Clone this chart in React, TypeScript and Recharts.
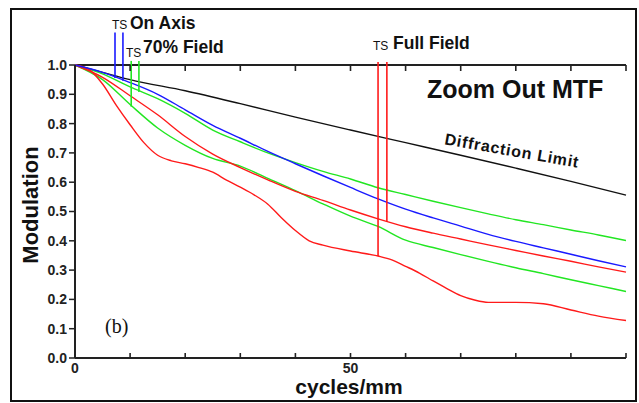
import { LineChart, Line, XAxis, YAxis, ReferenceLine } from "recharts";

// diffraction limit
const diffX = [0, 5, 10, 20, 30, 40, 50, 60, 70, 80, 90, 100];
const diffY = [1.0, 0.975, 0.95, 0.912, 0.868, 0.822, 0.778, 0.735, 0.692, 0.648, 0.603, 0.556];

// on axis (T and S overlap)
const axisX = [0, 5, 10, 15, 20, 25, 30, 35, 40, 45, 50, 55, 60, 65, 70, 75, 80, 85, 90, 95, 100];
const axisY = [1.0, 0.975, 0.94, 0.9, 0.847, 0.794, 0.75, 0.705, 0.663, 0.622, 0.582, 0.543, 0.508, 0.478, 0.45, 0.422, 0.398, 0.376, 0.354, 0.332, 0.311];

// 70% field
const f70X = [0, 5, 10, 15, 20, 25, 30, 35, 40, 45, 50, 55, 60, 65, 70, 75, 80, 85, 90, 95, 100];
const f70S = [1.0, 0.97, 0.925, 0.885, 0.835, 0.778, 0.738, 0.7, 0.667, 0.637, 0.611, 0.581, 0.558, 0.535, 0.513, 0.492, 0.472, 0.455, 0.437, 0.42, 0.401];
const f70T = [1.0, 0.95, 0.865, 0.785, 0.726, 0.681, 0.655, 0.613, 0.571, 0.526, 0.484, 0.449, 0.402, 0.377, 0.353, 0.33, 0.308, 0.288, 0.267, 0.247, 0.227];

// full field
const fullSX = [0, 5, 10, 15, 20, 25, 30, 35, 40, 45, 50, 55, 60, 65, 70, 75, 80, 85, 90, 95, 100];
const fullS = [1.0, 0.958, 0.895, 0.83, 0.756, 0.696, 0.65, 0.608, 0.569, 0.538, 0.505, 0.475, 0.448, 0.426, 0.406, 0.386, 0.367, 0.348, 0.33, 0.311, 0.293];
const fullTX = [0, 2.5, 5, 7.5, 10, 12.5, 15, 17.5, 20, 22.5, 25, 27.5, 30, 32.5, 35, 37.5, 40, 42.5, 45, 50, 55, 57.5, 60, 62.5, 65, 67.5, 70, 72.5, 75, 80, 85, 90, 95, 100];
const fullT = [1.0, 0.985, 0.935, 0.862, 0.796, 0.735, 0.692, 0.673, 0.663, 0.65, 0.634, 0.607, 0.583, 0.557, 0.525, 0.478, 0.435, 0.4, 0.385, 0.365, 0.348, 0.335, 0.313, 0.29, 0.263, 0.237, 0.213, 0.198, 0.19, 0.19, 0.185, 0.164, 0.143, 0.128];

// T/S legend markers
const markerX = [7.26, 8.7, 10.2, 11.6, 55.0, 56.6];
const markerTop = [1.111, 1.111, 1.014, 1.014, 1.01, 1.01];
const markerBottom = [0.956, 0.946, 0.858, 0.908, 0.348, 0.464];
const markerGroup = ["axis", "axis", "f70", "f70", "full", "full"];

const xTicks = [0, 10, 20, 30, 40, 50, 60, 70, 80, 90, 100];
const xLabelTicks = [0, 50];
const yTicks = [0, 0.1, 0.2, 0.3, 0.4, 0.5, 0.6, 0.7, 0.8, 0.9, 1.0];

const COLORS: Record<string, string> = {
  diff: "#111111",
  axis: "#1a1aff",
  f70: "#22e622",
  full: "#ff1a1a",
};

const FONT = '"Liberation Sans", Arial, Helvetica, sans-serif';
const AX = "#222";

// layout
const W = 639;
const H = 403;
const MARGIN = { top: 65, right: 12, bottom: 25, left: 35 };
const X_AXIS_H = 20;
const PLOT_H = H - MARGIN.top - MARGIN.bottom - X_AXIS_H;

const pts = (xs: number[], ys: number[]) => xs.map((x, i) => ({ x, y: ys[i] }));

// inward tick marks on bottom and top frame, drawn from the axis' own tick positions
const BottomTick = (p: any) => (
  <g>
    <line x1={p.x} y1={p.y} x2={p.x} y2={p.y - 5} stroke={AX} strokeWidth={1.6} />
    <line x1={p.x} y1={p.y - PLOT_H} x2={p.x} y2={p.y - PLOT_H + 6} stroke={AX} strokeWidth={1.6} />
    {xLabelTicks.includes(p.payload.value) && (
      <text x={p.x} y={p.y + 15} textAnchor="middle" fontSize={14} fontWeight="bold" fill={AX} fontFamily={FONT}>
        {p.payload.value}
      </text>
    )}
  </g>
);
const RightTick = (p: any) => <line x1={p.x} y1={p.y} x2={p.x - 6} y2={p.y} stroke={AX} strokeWidth={1.6} />;

const series = [
  { key: "diff", data: pts(diffX, diffY), color: COLORS.diff },
  { key: "f70S", data: pts(f70X, f70S), color: COLORS.f70 },
  { key: "f70T", data: pts(f70X, f70T), color: COLORS.f70 },
  { key: "fullS", data: pts(fullSX, fullS), color: COLORS.full },
  { key: "fullT", data: pts(fullTX, fullT), color: COLORS.full },
  { key: "axis", data: pts(axisX, axisY), color: COLORS.axis },
];

export default function App() {
  return (
    <div style={{ position: "absolute", left: 0, top: 0, width: W, height: H, background: "#fff" }}>
      <LineChart width={W} height={H} margin={MARGIN}>
        <XAxis
          xAxisId="bottom" dataKey="x" type="number" domain={[0, 100]} ticks={xTicks} interval={0}
          height={X_AXIS_H} axisLine={{ stroke: AX, strokeWidth: 2 }} tickLine={false} tickSize={0} tickMargin={0}
          tick={BottomTick}
        />
        <YAxis
          yAxisId="left" type="number" domain={[0, 1]} ticks={yTicks} width={40} interval={0}
          tickSize={6} tickMargin={2} tickFormatter={(v: number) => v.toFixed(1)}
          axisLine={{ stroke: AX, strokeWidth: 2 }} tickLine={{ stroke: AX, strokeWidth: 1.5 }}
          tick={{ fontSize: 14, fontWeight: "bold", fill: AX, fontFamily: FONT }}
        />
        <YAxis
          yAxisId="right" type="number" domain={[0, 1]} ticks={yTicks} orientation="right" interval={0}
          width={1} tickLine={false} tickSize={0} tickMargin={0} axisLine={false} tick={RightTick}
        />
        {/* top frame line */}
        <ReferenceLine xAxisId="bottom" yAxisId="left" y={1} stroke={AX} strokeWidth={2} ifOverflow="visible" />
        {series.map((s) => (
          <Line
            key={s.key} xAxisId="bottom" yAxisId="left" data={s.data} dataKey="y"
            type="monotone" stroke={s.color} strokeWidth={1.4} dot={false}
            isAnimationActive={false}
          />
        ))}
        {markerX.map((x, i) => (
          <ReferenceLine
            key={i} xAxisId="bottom" yAxisId="left" ifOverflow="visible"
            segment={[{ x, y: markerTop[i] }, { x, y: markerBottom[i] }]}
            stroke={COLORS[markerGroup[i]]} strokeWidth={1.6}
          />
        ))}
      </LineChart>

      <svg width={W} height={H} style={{ position: "absolute", left: 0, top: 0, pointerEvents: "none" }}>
        <g fontFamily={FONT} fill="#111">
          <text x={112} y={29} fontSize={12}>TS</text>
          <text x={130} y={29} fontSize={17.5} fontWeight="bold">On Axis</text>
          <text x={126} y={57} fontSize={12}>TS</text>
          <text x={143} y={53} fontSize={17.5} fontWeight="bold">70% Field</text>
          <text x={373} y={50} fontSize={12}>TS</text>
          <text x={393} y={49} fontSize={17.5} fontWeight="bold">Full Field</text>
          <text x={427} y={98} fontSize={25} fontWeight="bold">Zoom Out MTF</text>
          <text
            x={511} y={156} fontSize={16} fontWeight="bold" textAnchor="middle" letterSpacing={0.8}
            transform="rotate(10 511 156)"
          >
            Diffraction Limit
          </text>
          <text x={38} y={205} fontSize={22} fontWeight="bold" textAnchor="middle" transform="rotate(-90 38 205)">
            Modulation
          </text>
          <text x={349} y={394} fontSize={21} fontWeight="bold" textAnchor="middle">cycles/mm</text>
          <text x={105} y={333} fontSize={20} fontFamily='"Liberation Serif", "Times New Roman", serif'>(b)</text>
        </g>
      </svg>

      <div
        style={{
          position: "absolute", left: 10, top: 8, width: 627, height: 394,
          boxSizing: "border-box", border: "2px solid #111", pointerEvents: "none",
        }}
      />
    </div>
  );
}
